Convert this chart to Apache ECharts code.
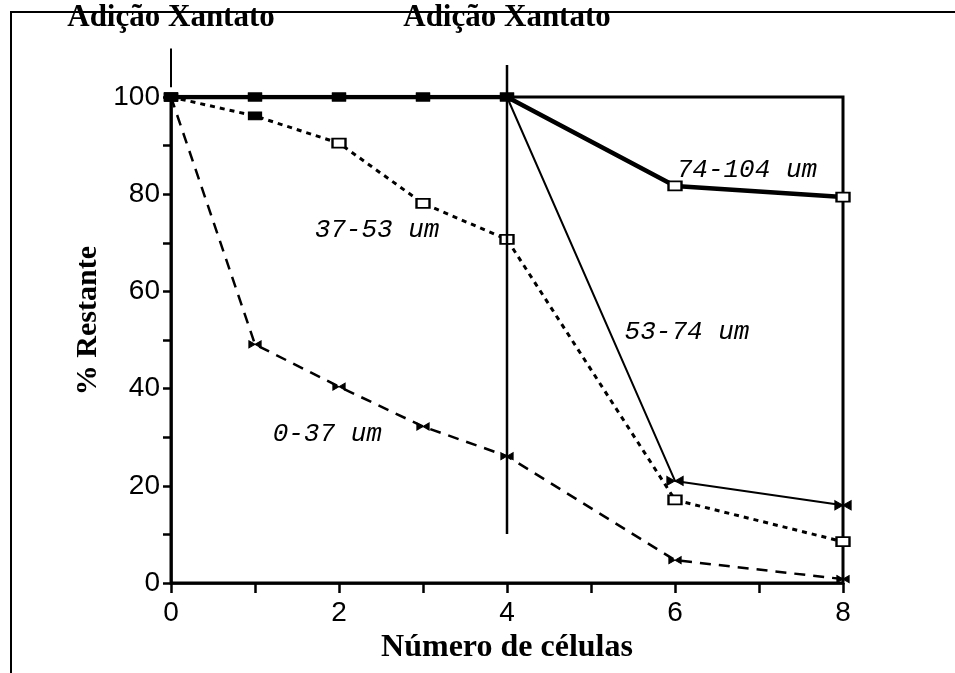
<!DOCTYPE html>
<html><head><meta charset="utf-8">
<script src="https://cdn.jsdelivr.net/npm/echarts@6/dist/echarts.min.js"></script>
<style>html,body{margin:0;padding:0;background:#fff}#c{width:955px;height:673px}</style>
</head><body><div id="c"></div>
<script>
// ---- data ----
const cells = [0, 1, 2, 3, 4, 6, 8];
const s74_104 = [100, 100, 100, 100, 100, 81.7, 79.4];
const s53_74 = [100, 100, 100, 100, 100, 21.0, 16.0];
const s37_53 = [100, 96.1, 90.5, 78.1, 70.7, 17.1, 8.5];
const s0_37 = [100, 49.1, 40.4, 32.2, 26.1, 4.7, 0.8];
const seriesNames = ['74-104 um', '53-74 um', '37-53 um', '0-37 um'];
const xTicks = [0, 2, 4, 6, 8];
const yTicks = [0, 20, 40, 60, 80, 100];
const annotation = 'Adição Xantato';
const additionPoints = [0, 4];
const yTitle = '% Restante';
const xTitle = 'Número de células';

const BOW = 'path://M0,0 L10,6 L10,0 L0,6 Z';
const filled = {color: '#000', borderColor: '#000', borderWidth: 1};
const hollow = {color: '#fff', borderColor: '#000', borderWidth: 2};

function pts(vals, symFn) {
  return cells.map((x, i) => {
    const s = symFn(i);
    return {value: [x, vals[i]], symbol: s.symbol, symbolSize: s.size, itemStyle: s.style};
  });
}
const rectF = {symbol: 'rect', size: [13, 8], style: filled};
const rectH = {symbol: 'rect', size: [13, 9], style: hollow};

const chart = echarts.init(document.getElementById('c'), null, {renderer: 'canvas'});
const axisCol = '#000';
const option = {
  animation: false,
  backgroundColor: '#fff',
  grid: {left: 171, right: 112, top: 97, bottom: 90, show: true, borderColor: '#000', borderWidth: 3, backgroundColor: 'transparent'},
  xAxis: {
    type: 'value', min: xTicks[0], max: xTicks[xTicks.length - 1], interval: 2,
    axisLine: {lineStyle: {color: axisCol, width: 2.5}},
    axisTick: {length: 10, lineStyle: {color: axisCol, width: 2.5}},
    minorTick: {show: true, splitNumber: 2, length: 10, lineStyle: {color: axisCol, width: 2.5}},
    splitLine: {show: false}, minorSplitLine: {show: false},
    axisLabel: {fontFamily: 'Liberation Sans', fontSize: 28, color: '#000', margin: 16},
    name: xTitle, nameLocation: 'middle', nameGap: 45,
    nameTextStyle: {fontFamily: 'Liberation Serif', fontWeight: 'bold', fontSize: 32, color: '#000'}
  },
  yAxis: {
    type: 'value', min: yTicks[0], max: yTicks[yTicks.length - 1], interval: 20,
    axisLine: {lineStyle: {color: axisCol, width: 2.5}},
    axisTick: {length: 8, lineStyle: {color: axisCol, width: 2.5}},
    minorTick: {show: true, splitNumber: 2, length: 8, lineStyle: {color: axisCol, width: 2.5}},
    splitLine: {show: false}, minorSplitLine: {show: false},
    axisLabel: {fontFamily: 'Liberation Sans', fontSize: 28, color: '#000', margin: 11}
  },
  series: [
    {name: seriesNames[0], type: 'line', z: 3,
     lineStyle: {color: '#000', width: 4.5},
     data: pts(s74_104, i => i <= 4 ? rectF : rectH)},
    {name: seriesNames[1], type: 'line', z: 3,
     lineStyle: {color: '#000', width: 2},
     data: pts(s53_74, i => i <= 4 ? rectF : {symbol: BOW, size: [16, 9], style: filled})},
    {name: seriesNames[2], type: 'line', z: 3,
     lineStyle: {color: '#000', width: 3, type: [5, 5]},
     data: pts(s37_53, i => i <= 1 ? rectF : rectH)},
    {name: seriesNames[3], type: 'line', z: 3,
     lineStyle: {color: '#000', width: 2.5, type: [11, 8]},
     data: pts(s0_37, i => i === 0 ? rectF : {symbol: BOW, size: [12, 7], style: filled})}
  ]
};
chart.setOption(option);

const px = (x, y) => chart.convertToPixel({gridIndex: 0}, [x, y]);
const g = [];
g.push({type: 'rect', shape: {x: 11, y: 12, width: 1000, height: 700}, style: {fill: 'none', stroke: '#000', lineWidth: 2}, silent: true});
// addition lines
{
  const a = px(additionPoints[1], 106.6), b = px(additionPoints[1], 10.1);
  g.push({type: 'line', shape: {x1: a[0], y1: a[1], x2: b[0], y2: b[1]}, style: {stroke: '#000', lineWidth: 2.5}, z: 10});
  const c = px(additionPoints[0], 110), d = px(additionPoints[0], 102);
  g.push({type: 'line', shape: {x1: c[0], y1: c[1], x2: d[0], y2: d[1]}, style: {stroke: '#000', lineWidth: 2}, z: 10});
}
additionPoints.forEach(xv => {
  const p = px(xv, 100);
  g.push({type: 'text', style: {text: annotation, x: p[0], y: 18, align: 'center', verticalAlign: 'middle', textAlign: 'center', textVerticalAlign: 'middle',
    font: 'bold 31px "Liberation Serif"', fill: '#000'}, z: 10});
});
// y axis title (rotated)
{
  const p = px(0, 54);
  g.push({type: 'text', x: p[0] - 83, y: p[1], rotation: Math.PI / 2,
    style: {text: yTitle, x: 0, y: 0, align: 'center', verticalAlign: 'middle', textAlign: 'center', textVerticalAlign: 'middle',
      font: 'bold 30px "Liberation Serif"', fill: '#000'}, z: 10});
}
// series labels
const labelAnchors = [[6.02, 85], [5.40, 51.6], [1.71, 72.6], [1.21, 30.7]];
seriesNames.forEach((n, i) => {
  const p = px(labelAnchors[i][0], labelAnchors[i][1]);
  g.push({type: 'text', style: {text: n, x: p[0], y: p[1], align: 'left', verticalAlign: 'middle', textAlign: 'left', textVerticalAlign: 'middle',
    font: 'italic 26px "Liberation Mono"', fill: '#000'}, z: 10});
});
chart.setOption({graphic: {elements: g}});
</script></body></html>
